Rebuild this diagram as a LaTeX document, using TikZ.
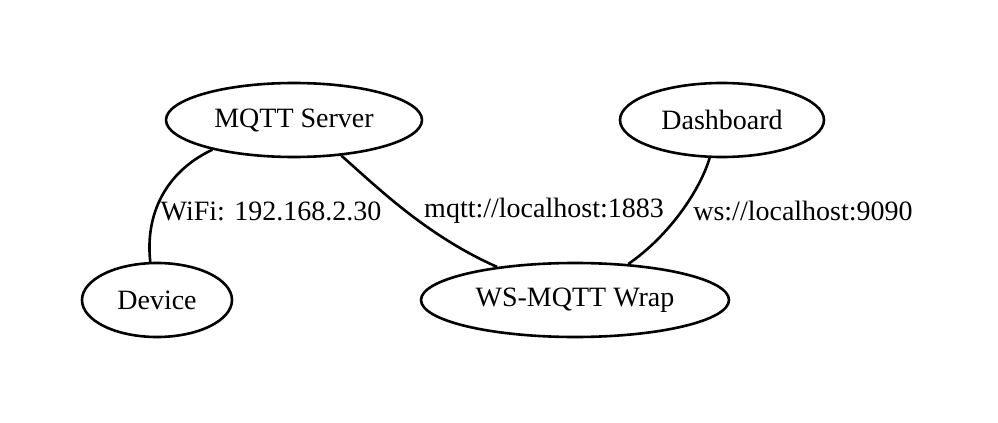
\documentclass[tikz,border=0pt]{standalone}
\usepackage{fontspec}
\setmainfont{Liberation Serif}
\usetikzlibrary{shapes.geometric}
\tikzset{
    host/.style={ellipse, draw, line width=1.3pt, minimum height=37pt, inner sep=0pt},
    link/.style={line width=1.3pt}
}

\begin{document}
\begin{tikzpicture}[x=0.5pt, y=-0.5pt, font=\fontsize{14}{16}\selectfont]
    \useasboundingbox (0,0) rectangle (998,423);
    \node[host, minimum width=128pt] (mqtt) at (294,120) {MQTT Server};
    \node[host, minimum width=102pt] (dash) at (722,120) {Dashboard};
    \node[host, minimum width=75pt] (device) at (157,300) {Device};
    \node[host, minimum width=154pt] (wrap) at (575,300) {WS-MQTT Wrap};
    \draw[link] (mqtt.200) .. controls (165,172) and (145,215) .. (device.100);
    \draw[link] (mqtt.323) .. controls (375,185) and (425,235) .. (wrap.157);
    \draw[link] (dash.252) .. controls (700,190) and (670,235) .. (wrap.34);
    \node (wifi) at (271,211) {WiFi: 192.168.2.30};
    \node (mqttport) at (544,211) {mqtt://localhost:1883};
    \node (wsport) at (803,211) {ws://localhost:9090};
\end{tikzpicture}
\end{document}
